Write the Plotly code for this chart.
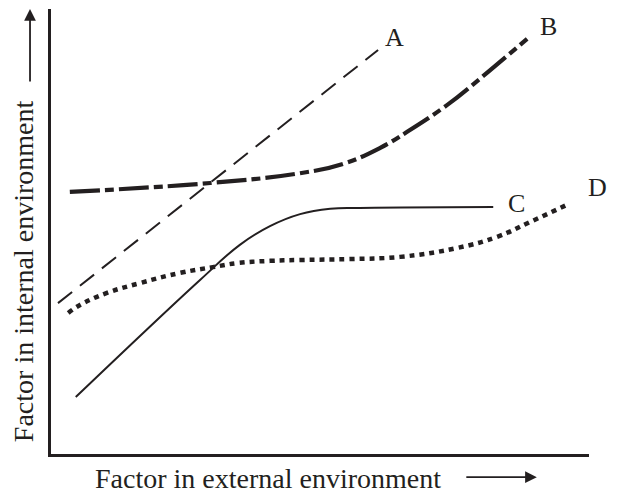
import plotly.graph_objects as go

INK = "#231f20"
FONT = "Liberation Serif, Times New Roman, serif"

# curves, both axes on a 0-100 scale
a_x = [1.3, 60.8]
a_y = [33.9, 90.8]

b_x = [3.5, 29.6, 46.3, 54.3, 61.2, 66.2, 73.6, 79.7, 88.5]
b_y = [58.9, 60.9, 63.1, 65.2, 68.8, 72.4, 78.4, 84.3, 93.3]

c_x = [4.6, 27.7, 35.1, 40.7, 46.3, 51.9, 57.4, 82.2]
c_y = [12.8, 39.1, 47.0, 51.2, 53.9, 55.1, 55.3, 55.5]

d_x = [3.2, 5.4, 10.4, 16.5, 24.0, 30.1, 34.6, 40.7, 46.3, 55.6, 64.9, 75.5, 82.9, 89.0, 95.9]
d_y = [31.7, 33.5, 36.2, 38.4, 40.7, 42.0, 42.9, 43.4, 43.6, 43.8, 44.3, 46.3, 48.8, 52.1, 56.0]

curve_labels = ["A", "B", "C", "D"]
label_x = [63.9, 92.4, 86.6, 101.5]
label_y = [93.7, 96.0, 56.4, 59.8]

x_title = "Factor in external environment"
y_title = "Factor in internal environment"

STYLES = {
    "A": dict(width=2, dash="18px,10px"),
    "B": dict(width=4.2, dash="30px,5px,9px,5px"),
    "C": dict(width=2, dash="solid"),
    "D": dict(width=4.5, dash="5px,5px"),
}

fig = go.Figure()
for name, xs, ys in [("A", a_x, a_y), ("B", b_x, b_y), ("C", c_x, c_y), ("D", d_x, d_y)]:
    fig.add_trace(
        go.Scatter(
            x=xs,
            y=ys,
            mode="lines",
            name=name,
            line=dict(color=INK, shape="spline", smoothing=1.2, **STYLES[name]),
            hoverinfo="skip",
        )
    )

label_font = dict(size=26, color=INK, family=FONT)
title_font = dict(size=28, color=INK, family=FONT)
centered = dict(xref="paper", yref="paper", xanchor="center", yanchor="middle")

# labels and titles sit partly outside the axes, so place them on paper
for text, lx, ly in zip(curve_labels, label_x, label_y):
    fig.add_annotation(x=lx / 100, y=ly / 100, text=text, showarrow=False,
                       font=label_font, **centered)

fig.add_annotation(x=0.403, y=-0.054, text=x_title, showarrow=False,
                   font=title_font, **centered)
fig.add_annotation(x=-0.052, y=0.411, text=y_title, showarrow=False,
                   textangle=-90, font=title_font, **centered)
fig.add_annotation(x=0.903, y=-0.052, xref="paper", yref="paper", ax=-72, ay=0,
                   text="", showarrow=True, arrowhead=2, arrowsize=1.3,
                   arrowwidth=1.8, arrowcolor=INK)
fig.add_annotation(x=-0.039, y=1.0, xref="paper", yref="paper", ax=0, ay=74,
                   text="", showarrow=True, arrowhead=2, arrowsize=1.3,
                   arrowwidth=1.8, arrowcolor=INK)

axis_style = dict(showline=True, linecolor=INK, linewidth=2.5, showgrid=False,
                  zeroline=False, showticklabels=False, ticks="", range=[0, 100],
                  fixedrange=True)
fig.update_xaxes(**axis_style)
fig.update_yaxes(**axis_style)

# page body adds an 8px margin, so the figure margins are trimmed by that much
fig.update_layout(
    width=620,
    height=498,
    margin=dict(l=43, r=39, t=1, b=52),
    paper_bgcolor="white",
    plot_bgcolor="white",
    showlegend=False,
)

fig.write_html("out.html", config={"displayModeBar": False})
